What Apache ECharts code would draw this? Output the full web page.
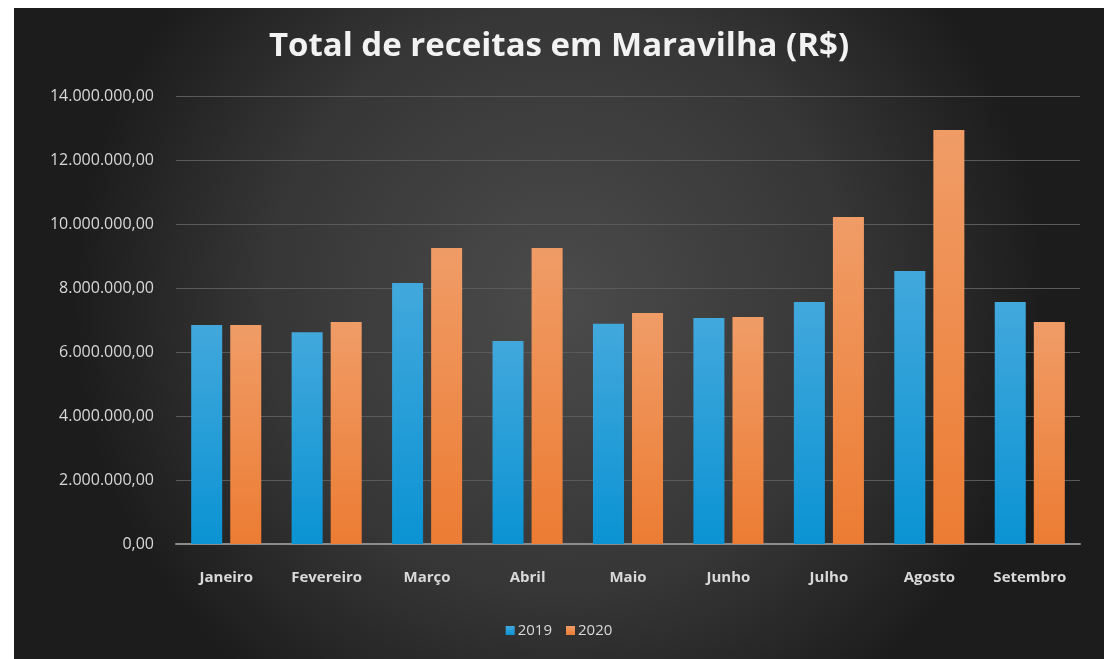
<!DOCTYPE html>
<html>
<head>
<meta charset="utf-8">
<script src="https://cdn.jsdelivr.net/npm/echarts@6/dist/echarts.min.js"></script>
<style>
  html, body { margin: 0; padding: 0; background: #fff; }
  #main { position: absolute; left: 14px; top: 8px; width: 1090px; height: 651px; }
</style>
</head>
<body>
<div id="main"></div>
<script>
// dados
const months = ["Janeiro", "Fevereiro", "Março", "Abril", "Maio", "Junho", "Julho", "Agosto", "Setembro"];
const values2019 = [6840000, 6620000, 8160000, 6340000, 6880000, 7060000, 7560000, 8530000, 7560000];
const values2020 = [6840000, 6940000, 9250000, 9250000, 7220000, 7090000, 10220000, 12940000, 6940000];
const yTicks = [0, 2000000, 4000000, 6000000, 8000000, 10000000, 12000000, 14000000];

const fmtBR = (v) => {
  const s = Math.round(v).toString().replace(/\B(?=(\d{3})+(?!\d))/g, ".");
  return s + ",00";
};

const chart = echarts.init(document.getElementById("main"));

const barGrad = (top, bottom) =>
  new echarts.graphic.LinearGradient(0, 0, 0, 1, [
    { offset: 0, color: top },
    { offset: 1, color: bottom },
  ]);

chart.setOption({
  backgroundColor: new echarts.graphic.RadialGradient(0.5, 0.45, 0.75, [
    { offset: 0, color: "#4b4b4b" },
    { offset: 0.6, color: "#363636" },
    { offset: 1, color: "#1c1c1c" },
  ]),
  title: {
    text: "Total de receitas em Maravilha (R$)",
    left: "center",
    top: 17,
    textStyle: {
      color: "#f2f2f2",
      fontFamily: "Open Sans",
      fontWeight: "bold",
      fontSize: 33,
    },
  },
  legend: {
    bottom: 16,
    left: "center",
    itemWidth: 9,
    itemHeight: 9,
    itemGap: 14,
    icon: "rect",
    textStyle: { color: "#d9d9d9", fontFamily: "Open Sans", fontSize: 15, padding: [0, 0, 0, -2] },
    data: ["2019", "2020"],
  },
  grid: { left: 162, right: 24, top: 88, bottom: 115 },
  xAxis: {
    type: "category",
    data: months,
    axisTick: { show: false },
    axisLine: { lineStyle: { color: "#8c8c8c", width: 2 } },
    axisLabel: {
      color: "#d9d9d9",
      fontFamily: "Open Sans",
      fontWeight: "bold",
      fontSize: 15,
      margin: 26,
    },
  },
  yAxis: {
    type: "value",
    min: 0,
    max: 14000000,
    interval: 2000000,
    axisLine: { show: false },
    axisTick: { show: false },
    splitLine: { lineStyle: { color: "#5a5a5a", width: 1 } },
    axisLabel: {
      color: "#d9d9d9",
      fontFamily: "Open Sans",
      fontSize: 16,
      margin: 22,
      formatter: (v) => (yTicks.includes(v) ? fmtBR(v) : ""),
    },
  },
  series: [
    {
      name: "2019",
      type: "bar",
      data: values2019,
      barWidth: 31,
      barGap: "26%",
      itemStyle: {
        color: barGrad("#42a8dc", "#0b93d3"),
        shadowColor: "rgba(0,0,0,0.6)",
        shadowBlur: 6,
        shadowOffsetX: 2,
      },
    },
    {
      name: "2020",
      type: "bar",
      data: values2020,
      barWidth: 31,
      barGap: "26%",
      itemStyle: {
        color: barGrad("#f09c67", "#ec7c33"),
        shadowColor: "rgba(0,0,0,0.6)",
        shadowBlur: 6,
        shadowOffsetX: 2,
      },
    },
  ],
});
</script>
</body>
</html>
